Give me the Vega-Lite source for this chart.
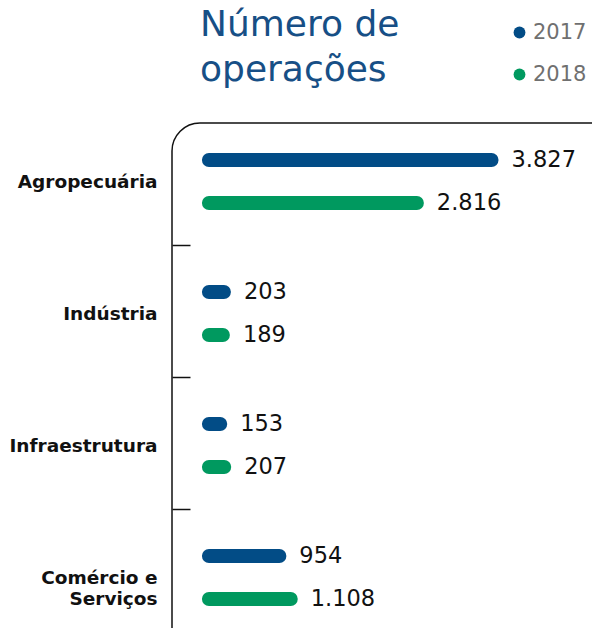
{
  "$schema": "https://vega.github.io/schema/vega-lite/v6.json",
  "autosize": {"type": "none"},
  "padding": {"left": 172, "top": 123, "right": -60, "bottom": -55},
  "width": 480,
  "height": 560,
  "background": "white",
  "config": {
    "font": "DejaVu Sans",
    "view": {"stroke": "#111111", "strokeWidth": 1.5, "cornerRadius": 28},
    "locale": {"number": {"decimal": ",", "thousands": ".", "grouping": [3], "currency": ["R$ ", ""]}}
  },
  "title": {
    "text": ["Número de", "operações"],
    "anchor": "start",
    "frame": "group",
    "dx": 28,
    "offset": -67,
    "fontSize": 36,
    "fontWeight": "normal",
    "color": "#174f86",
    "lineHeight": 45,
    "font": "DejaVu Sans"
  },
  "data": {
    "values": [
      {"setor": "Agropecuária", "ano": "2017", "valor": 3827},
      {"setor": "Agropecuária", "ano": "2018", "valor": 2816},
      {"setor": "Indústria", "ano": "2017", "valor": 203},
      {"setor": "Indústria", "ano": "2018", "valor": 189},
      {"setor": "Infraestrutura", "ano": "2017", "valor": 153},
      {"setor": "Infraestrutura", "ano": "2018", "valor": 207},
      {"setor": "Comércio e Serviços", "ano": "2017", "valor": 954},
      {"setor": "Comércio e Serviços", "ano": "2018", "valor": 1108}
    ]
  },
  "encoding": {
    "y": {
      "field": "setor",
      "type": "nominal",
      "sort": ["Agropecuária", "Indústria", "Infraestrutura", "Comércio e Serviços"],
      "scale": {"range": [-10, 518], "paddingInner": 0, "paddingOuter": 0},
      "axis": {
        "title": null,
        "domain": false,
        "bandPosition": 1,
        "tickSize": -18,
        "tickColor": "#111111",
        "tickWidth": 1.5,
        "labelOffset": 3,
        "labelPadding": 33,
        "labelFont": "DejaVu Sans",
        "labelFontWeight": "bold",
        "labelFontSize": 18.5,
        "labelColor": "#111111",
        "labelLimit": 250,
        "labelLineHeight": 21,
        "labelExpr": "datum.value == 'Comércio e Serviços' ? ['Comércio e', 'Serviços'] : datum.value"
      }
    },
    "yOffset": {
      "field": "ano",
      "type": "nominal",
      "scale": {"range": [25.5, 111.5], "paddingInner": 0, "paddingOuter": 0}
    }
  },
  "layer": [
    {
      "mark": {"type": "rule", "strokeWidth": 14, "strokeCap": "round"},
      "encoding": {
        "x": {"field": "valor", "type": "quantitative", "scale": {"domain": [-472, 5997]}, "axis": null},
        "x2": {"datum": 0},
        "color": {
          "field": "ano",
          "type": "nominal",
          "scale": {"domain": ["2017", "2018"], "range": ["#024c86", "#00995f"]},
          "legend": {
            "orient": "none",
            "legendX": 337,
            "legendY": -101,
            "title": null,
            "padding": 0,
            "symbolType": "circle",
            "symbolSize": 140,
            "rowPadding": 20,
            "labelOffset": 3,
            "labelFontSize": 21,
            "labelColor": "#707070",
            "labelFont": "DejaVu Sans",
            "encode": {"symbols": {"update": {"fill": {"scale": "color", "field": "value"}, "strokeWidth": {"value": 0}}}}
          }
        }
      }
    },
    {
      "mark": {"type": "text", "align": "left", "dx": 20, "fontSize": 22.5, "color": "#111111", "font": "DejaVu Sans"},
      "encoding": {
        "x": {"field": "valor", "type": "quantitative"},
        "text": {"field": "valor", "type": "quantitative", "format": ","}
      }
    }
  ]
}
